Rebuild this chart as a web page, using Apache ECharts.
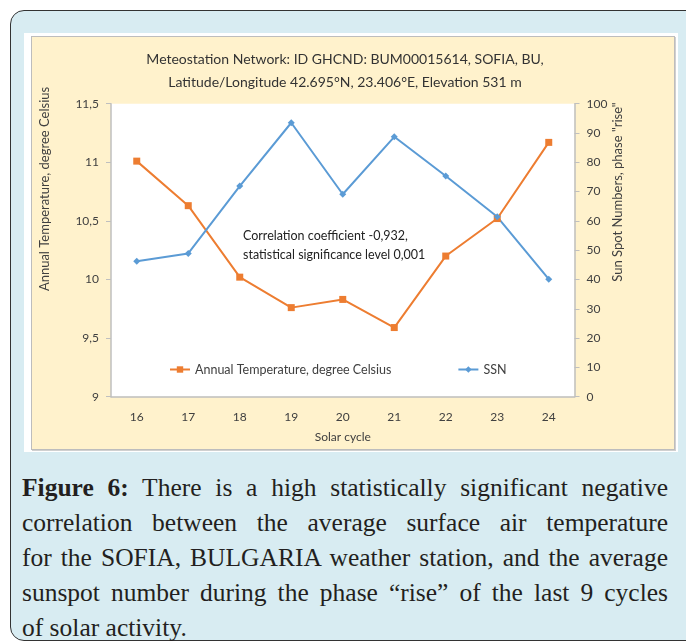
<!DOCTYPE html>
<html>
<head>
<meta charset="utf-8">
<script src="https://cdn.jsdelivr.net/npm/echarts@6/dist/echarts.min.js"></script>
<style>
  html, body { margin: 0; padding: 0; width: 686px; height: 643px; overflow: hidden; background: #fff; }
  .box {
    position: absolute; left: 10px; top: 10px; width: 700px; height: 629px;
    border: 1.5px solid #333; border-radius: 14px; background: #d8ecf2;
  }
  .frame { position: absolute; left: 24px; top: 33px; width: 654px; height: 419px; background: #fff; }
  #chart {
    position: absolute; left: 32px; top: 37px; width: 642px; height: 412px;
    background: #fff2cc; box-shadow: 0 0 0 1px #bdbdbd, 1px 1px 0 1px #d0d0d0;
  }
  .caption {
    position: absolute; left: 22px; top: 470px; width: 646px;
    font-family: "Liberation Serif", "DejaVu Serif", serif;
    font-size: 25.5px; line-height: 35px; color: #231f20;
  }
  .caption div { text-align: justify; text-align-last: justify; white-space: nowrap; }
  .caption div.last { text-align-last: left; }
</style>
</head>
<body>
<div class="box"></div>
<div class="frame"></div>
<div id="chart"></div>
<div class="caption">
  <div><b>Figure 6:</b> There is a high statistically significant negative</div>
  <div>correlation between the average surface air temperature</div>
  <div>for the SOFIA, BULGARIA weather station, and the average</div>
  <div>sunspot number during the phase “rise” of the last 9 cycles</div>
  <div class="last">of solar activity.</div>
</div>
<script>
// solar cycles and values
const cycles = ['16', '17', '18', '19', '20', '21', '22', '23', '24']
const temperature = [11.01, 10.63, 10.02, 9.76, 9.83, 9.59, 10.20, 10.52, 11.17]
const ssn = [46.2, 48.9, 71.9, 93.5, 69.1, 88.7, 75.3, 61.4, 40.1]

const titleLines = [
  'Meteostation Network: ID GHCND: BUM00015614, SOFIA, BU,',
  'Latitude/Longitude 42.695°N, 23.406°E, Elevation 531 m'
]
const noteLines = ['Correlation coefficient -0,932,', 'statistical significance level 0,001']

const font = 'Lato, "Noto Sans", sans-serif'
const axisGray = '#bfbfbf'
const labelColor = '#404040'

const chart = echarts.init(document.getElementById('chart'))

const option = {
  backgroundColor: 'transparent',
  textStyle: { fontFamily: font },
  title: {
    text: titleLines.join('\n'),
    left: 308,
    textAlign: 'center',
    top: 6,
    textStyle: { fontFamily: font, fontSize: 14, fontWeight: 'normal', color: '#333', lineHeight: 23 }
  },
  grid: {
    left: 79,
    right: 99.5,
    top: 66.7,
    bottom: 52.3,
    show: true,
    backgroundColor: '#fff',
    borderWidth: 0
  },
  legend: {
    left: 132,
    top: 321,
    itemGap: 66,
    itemWidth: 20,
    itemHeight: 8,
    textStyle: { fontFamily: font, fontSize: 12.5, color: labelColor }
  },
  xAxis: {
    type: 'category',
    data: cycles,
    boundaryGap: true,
    name: 'Solar cycle',
    nameLocation: 'middle',
    nameGap: 34,
    nameTextStyle: { fontFamily: font, fontSize: 12, color: labelColor },
    axisLine: { lineStyle: { color: axisGray, width: 1.5 } },
    axisTick: { length: 5, lineStyle: { color: axisGray } },
    axisLabel: { margin: 14, fontSize: 12, color: labelColor }
  },
  yAxis: [
    {
      type: 'value',
      min: 9,
      max: 11.5,
      interval: 0.5,
      position: 'left',
      axisLine: { show: true, lineStyle: { color: axisGray, width: 1.5 } },
      axisTick: { show: true, length: 5, lineStyle: { color: axisGray } },
      axisLabel: {
        margin: 12, fontSize: 12, color: labelColor,
        formatter: v => String(v).replace('.', ',')
      },
      splitLine: { show: false }
    },
    {
      type: 'value',
      min: 0,
      max: 100,
      interval: 10,
      position: 'right',
      axisLine: { show: true, lineStyle: { color: axisGray, width: 1.5 } },
      axisTick: { show: true, length: 5, lineStyle: { color: axisGray } },
      axisLabel: { margin: 12, fontSize: 12, color: labelColor },
      splitLine: { show: false }
    }
  ],
  graphic: [
    {
      type: 'text',
      x: 13,
      y: 152,
      rotation: Math.PI / 2,
      style: {
        text: 'Annual Temperature, degree Celsius',
        font: '13px ' + font,
        fill: labelColor,
        align: 'center',
        verticalAlign: 'middle'
      }
    },
    {
      type: 'text',
      x: 586,
      y: 155,
      rotation: Math.PI / 2,
      style: {
        text: 'Sun Spot Numbers, phase "rise"',
        font: '13px ' + font,
        fill: labelColor,
        align: 'center',
        verticalAlign: 'middle'
      }
    },
    {
      type: 'text',
      x: 211,
      y: 189,
      style: {
        text: noteLines.join('\n'),
        font: '12.5px ' + font,
        lineHeight: 19,
        fill: '#222'
      }
    }
  ],
  series: [
    {
      name: 'Annual Temperature, degree Celsius',
      type: 'line',
      yAxisIndex: 0,
      data: temperature,
      symbol: 'rect',
      symbolSize: 7,
      lineStyle: { color: '#ed7d31', width: 2 },
      itemStyle: { color: '#ed7d31' }
    },
    {
      name: 'SSN',
      type: 'line',
      yAxisIndex: 1,
      data: ssn,
      symbol: 'diamond',
      symbolSize: 7,
      lineStyle: { color: '#5b9bd5', width: 2 },
      itemStyle: { color: '#5b9bd5' }
    }
  ]
}

chart.setOption(option)
</script>
</body>
</html>
